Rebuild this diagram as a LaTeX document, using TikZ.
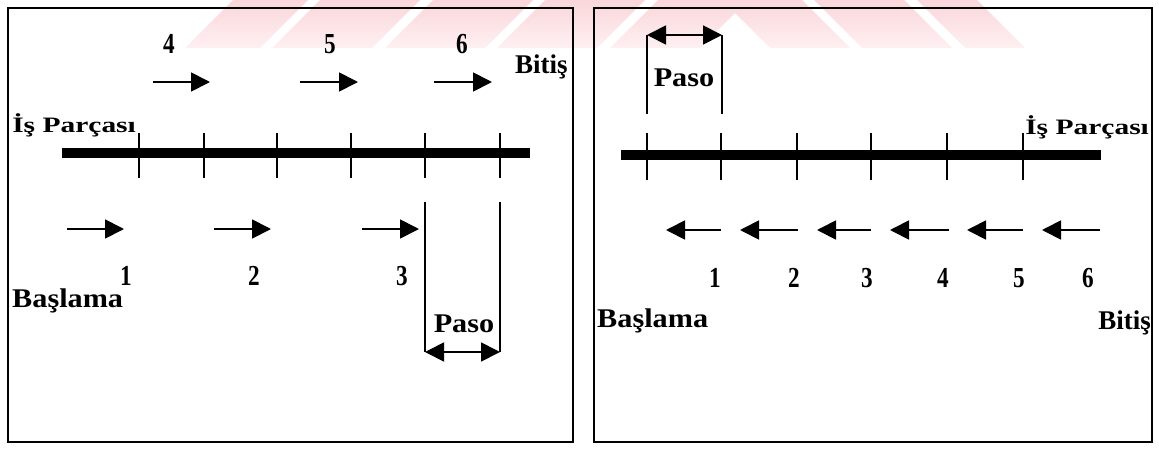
\documentclass[tikz,border=0pt]{standalone}
\usepackage{fontspec}
\setmainfont{Liberation Serif}
\usetikzlibrary{arrows.meta}
\definecolor{wmtop}{RGB}{250,214,218}
\definecolor{wmbot}{RGB}{254,240,242}
\begin{document}
\begin{tikzpicture}[x=1pt,y=-1pt,
  frame/.style={line width=1.6pt},
  bar/.style={line width=10pt},
  tickmark/.style={line width=1.3pt},
  guide/.style={line width=1.3pt},
  move/.style={line width=1.8pt,-{Triangle[length=19pt,width=19pt]}},
  span/.style={line width=1.8pt,{Triangle[length=19pt,width=19pt]}-{Triangle[length=19pt,width=19pt]}},
  num/.style={font=\fontsize{29}{29}\selectfont\bfseries, inner sep=0pt, xscale=0.8},
  lbl/.style={font=\fontsize{27}{27}\selectfont\bfseries, inner sep=0pt},
  wide/.style={font=\fontsize{27}{27}\selectfont\bfseries, inner sep=0pt, xscale=1.12},
  part/.style={font=\fontsize{22}{22}\selectfont\bfseries, inner sep=0pt, xscale=1.34},
]
\useasboundingbox (0,0) rectangle (1159,450);

% faint watermark bands along the top edge
\begin{scope}
  \clip (0,0) rectangle (1159,48);
  \foreach \a/\w in {185/75, 272/100, 385/100, 497/100, 610/90}
    \shade[top color=wmtop, bottom color=wmbot]
      (\a,48) -- (\a+\w,48) -- (\a+\w+48,0) -- (\a+48,0) -- cycle;
  \foreach \b/\w in {770/80, 862/90, 965/60}
    \shade[top color=wmtop, bottom color=wmbot]
      (\b,48) -- (\b+\w,48) -- (\b+\w-48,0) -- (\b-48,0) -- cycle;
\end{scope}

% ---------- left panel: forward passes ----------
\draw[frame] (8,8) rectangle (573,442);
\coordinate (Lb0) at (62,153);
\coordinate (Lb1) at (530,153);
\draw[bar] (Lb0) -- (Lb1);
\foreach \x [count=\i] in {139,204,277,351,425,500} {
  \coordinate (Lt\i a) at (\x,133);
  \coordinate (Lt\i b) at (\x,178);
  \draw[tickmark] (Lt\i a) -- (Lt\i b);
}
\node[part, anchor=base west] (Lpart) at (12,132) {İş Parçası};
\node[lbl, anchor=base west] (Lend) at (515,73) {Bitiş};
\node[wide, anchor=base west] (Lstart) at (12,307) {Başlama};

\foreach \s/\e/\n/\nx in {153/210/4/169, 300/358/5/330, 434/492/6/462} {
  \coordinate (La\n s) at (\s,82);
  \coordinate (La\n e) at (\e,82);
  \draw[move] (La\n s) -- (La\n e);
  \node[num] (Ln\n) at (\nx,44) {\n};
}
\foreach \s/\e/\n/\nx in {67/124/1/126, 214/271/2/254, 362/419/3/402} {
  \coordinate (La\n s) at (\s,229);
  \coordinate (La\n e) at (\e,229);
  \draw[move] (La\n s) -- (La\n e);
  \node[num] (Ln\n) at (\nx,276) {\n};
}

% pitch dimension under the last two ticks
\coordinate (Lp0t) at (425,202);
\coordinate (Lp0b) at (425,352);
\coordinate (Lp1t) at (500,202);
\coordinate (Lp1b) at (500,352);
\draw[guide] (Lp0t) -- (Lp0b);
\draw[guide] (Lp1t) -- (Lp1b);
\draw[span] (Lp0b) -- (Lp1b);
\node[wide, anchor=base] (Lpaso) at (464,332) {Paso};

% ---------- right panel: backward passes ----------
\draw[frame] (594,8) rectangle (1152,442);
\coordinate (Rb0) at (621,155);
\coordinate (Rb1) at (1101,155);
\draw[bar] (Rb0) -- (Rb1);
\foreach \x [count=\i] in {647,721,797,871,947,1023} {
  \coordinate (Rt\i a) at (\x,133);
  \coordinate (Rt\i b) at (\x,180);
  \draw[tickmark] (Rt\i a) -- (Rt\i b);
}
\node[part, anchor=base west] (Rpart) at (1025,134) {İş Parçası};
\node[wide, anchor=base west] (Rstart) at (597,327) {Başlama};
\node[lbl, anchor=base east] (Rend) at (1151,329) {Bitiş};

\foreach \s/\e/\n/\nx in {721/666/1/715, 798/740/2/794, 871/817/3/867, 949/890/4/943, 1023/967/5/1019, 1100/1042/6/1088} {
  \coordinate (Ra\n s) at (\s,230);
  \coordinate (Ra\n e) at (\e,230);
  \draw[move] (Ra\n s) -- (Ra\n e);
  \node[num] (Rn\n) at (\nx,278) {\n};
}

% pitch dimension above the first two ticks
\coordinate (Rp0t) at (647,35);
\coordinate (Rp0b) at (647,114);
\coordinate (Rp1t) at (722,35);
\coordinate (Rp1b) at (722,114);
\draw[guide] (Rp0t) -- (Rp0b);
\draw[guide] (Rp1t) -- (Rp1b);
\draw[span] (Rp0t) -- (Rp1t);
\node[wide, anchor=base] (Rpaso) at (684,86) {Paso};
\end{tikzpicture}
\end{document}
